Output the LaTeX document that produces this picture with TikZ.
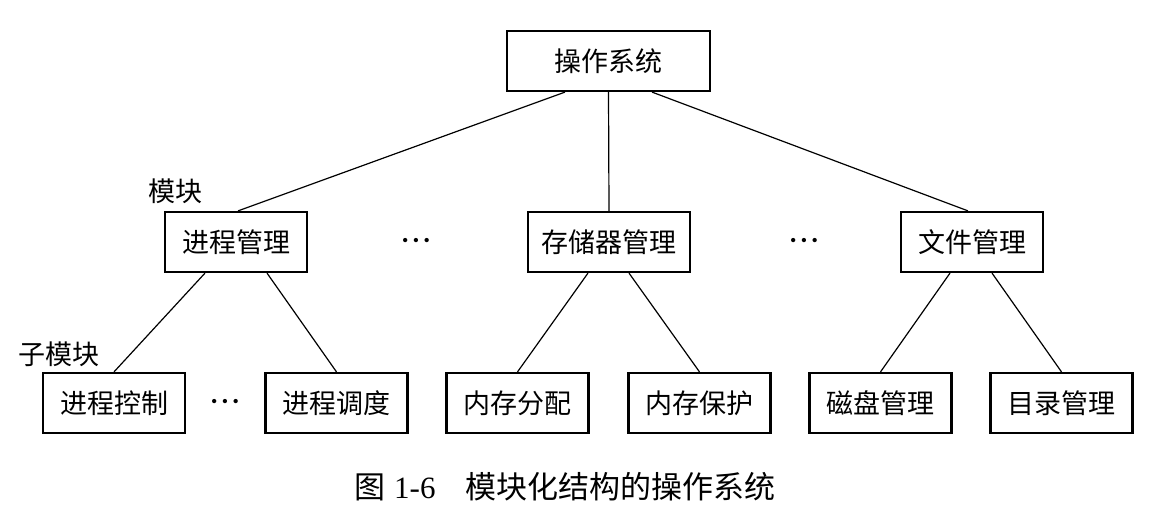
\documentclass[tikz,border=0pt]{standalone}
\usepackage{fontspec}
\setmainfont{Liberation Serif}
\newfontfamily\cjk{Noto Sans CJK SC}
\begin{document}
\begin{tikzpicture}[x=1pt,y=-1pt,
  box/.style={draw, line width=2.2pt, minimum height=60pt, minimum width=142pt, inner xsep=10pt,
    font=\cjk\fontsize{27}{30}\selectfont},
  lbl/.style={font=\cjk\fontsize{27}{30}\selectfont, inner sep=0pt},
  dots/.style={font=\fontsize{18}{20}\selectfont, inner sep=0pt},
  edge/.style={line width=1.2pt}]
\useasboundingbox (0,0) rectangle (1172,518);
% top
\node[box, minimum width=203pt] (os) at (608.5,61) {操作系统};
% middle
\node[box] (pm) at (236,242) {进程管理};
\node[box, minimum width=162pt] (sm) at (609,242) {存储器管理};
\node[box] (fm) at (972,242) {文件管理};
% bottom
\node[box] (pc) at (114,403) {进程控制};
\node[box] (ps) at (336.5,403) {进程调度};
\node[box] (ma) at (517.5,403) {内存分配};
\node[box] (mp) at (699.5,403) {内存保护};
\node[box] (dm) at (880.5,403) {磁盘管理};
\node[box] (dir) at (1061.5,403) {目录管理};
% labels
\node[lbl] (l1) at (175,191) {模块};
\node[lbl] (l2) at (59,354) {子模块};
% ellipses
\node[dots] (e1) at (416,242) {•\kern4.5pt•\kern4.5pt•};
\node[dots] (e2) at (804,242) {•\kern4.5pt•\kern4.5pt•};
\node[dots] (e3) at (225,403) {•\kern4.5pt•\kern4.5pt•};
% connectors
\draw[edge] ([xshift=-43.5pt]os.south) -- ([xshift=2pt]pm.north);
\draw[edge] (os.south) -- (sm.north);
\draw[edge] ([xshift=43.5pt]os.south) -- ([xshift=-4pt]fm.north);
\draw[edge] ([xshift=-31pt]pm.south) -- (pc.north);
\draw[edge] ([xshift=31pt]pm.south) -- (ps.north);
\draw[edge] ([xshift=-21pt]sm.south) -- (ma.north);
\draw[edge] ([xshift=20pt]sm.south) -- (mp.north);
\draw[edge] ([xshift=-22pt]fm.south) -- (dm.north);
\draw[edge] ([xshift=20pt]fm.south) -- (dir.north);
% caption
\node[anchor=west, inner sep=0pt, font=\fontsize{31}{34}\selectfont] (cap) at (354,487)
  {{\cjk 图}\hspace{9pt}1-6\hspace{30pt}{\cjk 模块化结构的操作系统}};
\end{tikzpicture}
\end{document}
